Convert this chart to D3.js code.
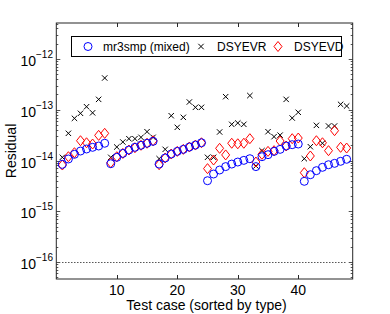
<!DOCTYPE html>
<html><head><meta charset="utf-8">
<script src="https://cdn.jsdelivr.net/npm/d3@7"></script>
<style>body{margin:0;background:#fff}svg{display:block}text{font-family:"Liberation Sans",Arial,sans-serif}</style>
</head><body>
<svg id="c" width="390" height="314"></svg>
<script>
const seriesNames = ["mr3smp (mixed)", "DSYEVR", "DSYEVD"];
// log10 of residuals, test cases 1..48
const mr3smp = [-14.075,-13.97,-13.878,-13.813,-13.773,-13.74,-13.714,-13.66,
  -14.063,-13.937,-13.86,-13.793,-13.74,-13.7,-13.66,-13.622,
  -14.07,-13.95,-13.872,-13.82,-13.78,-13.734,-13.695,-13.65,
  -14.398,-14.266,-14.187,-14.12,-14.07,-14.03,-13.997,-13.964,
  -14.12,-13.925,-13.885,-13.82,-13.78,-13.714,-13.688,-13.675,
  -14.41,-14.28,-14.2,-14.134,-14.083,-14.056,-14.016,-13.976];
const dsyevr = [-13.937,-13.464,-13.169,-13.07,-12.94,-13.06,-12.795,-12.374,
  -13.937,-13.734,-13.635,-13.57,-13.57,-13.543,-13.432,-13.543,
  -13.964,-13.78,-13.117,-13.346,-13.149,-12.847,-12.952,-12.952,
  -13.937,-13.937,-13.438,-12.742,-13.287,-13.261,-13.287,-12.72,
  -14.108,-13.806,-13.432,-13.53,-13.5,-12.795,-13.163,-13.05,
  -13.964,-13.728,-13.307,-13.66,-13.32,-13.32,-12.893,-12.926];
const dsyevd = [-14.089,-13.925,-13.846,-13.61,-13.65,-13.675,-13.504,-13.464,
  -14.043,-13.925,-13.86,-13.793,-13.748,-13.7,-13.66,-13.61,
  -14.083,-13.95,-13.872,-13.82,-13.78,-13.734,-13.695,-13.65,
  -14.16,-13.99,-13.76,-13.89,-13.66,-13.67,-13.66,-13.57,
  -14.03,-13.878,-13.82,-13.806,-13.616,-13.714,-13.57,-13.557,
  -14.24,-13.911,-13.61,-13.65,-13.806,-13.412,-13.74,-13.754];
const xTicks = [10, 20, 30, 40];
const yTickExps = [-16, -15, -14, -13, -12];
const refLevel = 1e-16;
const xLabel = "Test case (sorted by type)";
const yLabel = "Residual";

const L = 56.3, R = 352.7, T = 23, B = 279;
const svg = d3.select("#c");
const x = d3.scaleLinear().domain([0, 49]).range([L, R]);
const y = d3.scaleLog().domain([Math.pow(10, -16.335), Math.pow(10, -11.29)]).range([B, T]);
const axCol = "#262626";

svg.append("rect").attr("x", L).attr("y", T).attr("width", R - L).attr("height", B - T)
  .attr("fill", "none").attr("stroke", axCol).attr("stroke-width", 1);

xTicks.forEach(t => {
  const px = Math.round(x(t)) + 0.5;
  svg.append("line").attr("x1", px).attr("x2", px).attr("y1", B).attr("y2", B - 4).attr("stroke", axCol);
  svg.append("line").attr("x1", px).attr("x2", px).attr("y1", T).attr("y2", T + 4).attr("stroke", axCol);
  svg.append("text").attr("x", x(t)).attr("y", 294.5).attr("text-anchor", "middle")
    .attr("font-size", 14).text(t);
});
const [d0, d1] = y.domain();
for (let e = -17; e <= -11; e++) {
  for (let m = 1; m <= 9; m++) {
    const v = m * Math.pow(10, e);
    if (v < d0 || v > d1) continue;
    const py = Math.round(y(v)) + 0.5;
    const len = m === 1 ? 4 : 2;
    svg.append("line").attr("x1", L).attr("x2", L + len).attr("y1", py).attr("y2", py).attr("stroke", axCol).attr("stroke-width", 0.8);
    svg.append("line").attr("x1", R).attr("x2", R - len).attr("y1", py).attr("y2", py).attr("stroke", axCol).attr("stroke-width", 0.8);
  }
}
yTickExps.forEach(e => {
  const py = y(Math.pow(10, e));
  const t = svg.append("text").attr("x", 53).attr("y", py + 7).attr("text-anchor", "end").attr("font-size", 14);
  t.append("tspan").text("10");
  t.append("tspan").attr("dy", -8).attr("font-size", 10).text("\u2212" + Math.abs(e));
});

svg.append("line").attr("x1", x(1)).attr("x2", x(48)).attr("y1", Math.round(y(refLevel)) + 0.5).attr("y2", Math.round(y(refLevel)) + 0.5)
  .attr("stroke", "#000").attr("stroke-width", 1).attr("stroke-dasharray", "1,2");

svg.append("text").attr("x", (L + R) / 2 + 2).attr("y", 309.5).attr("text-anchor", "middle").attr("font-size", 14).text(xLabel);
svg.append("text").attr("transform", `translate(16,${(T + B) / 2}) rotate(-90)`).attr("text-anchor", "middle").attr("font-size", 14).text(yLabel);

const idx = d3.range(1, 49);
const g = svg.append("g");
g.selectAll(".xr").data(dsyevr).join("path")
  .attr("d", (d, i) => { const cx = x(idx[i]), cy = y(Math.pow(10, d)), s = 2.7; return `M${cx - s},${cy - s}L${cx + s},${cy + s}M${cx - s},${cy + s}L${cx + s},${cy - s}`; })
  .attr("stroke", "#000").attr("stroke-width", 1).attr("fill", "none");
g.selectAll(".dd").data(dsyevd).join("path")
  .attr("d", (d, i) => { const cx = x(idx[i]), cy = y(Math.pow(10, d)), w = 4, h = 5; return `M${cx},${cy - h}L${cx + w},${cy}L${cx},${cy + h}L${cx - w},${cy}Z`; })
  .attr("stroke", "#ff0000").attr("stroke-width", 1).attr("fill", "none");
g.selectAll(".cc").data(mr3smp).join("circle")
  .attr("cx", (d, i) => x(idx[i])).attr("cy", d => y(Math.pow(10, d))).attr("r", 4)
  .attr("stroke", "#0000ff").attr("stroke-width", 1).attr("fill", "none");

const lg = svg.append("g");
lg.append("rect").attr("x", 71.5).attr("y", 36.5).attr("width", 270).attr("height", 20)
  .attr("fill", "#fff").attr("stroke", "#000").attr("stroke-width", 1);
const ly = 46.5;
lg.append("circle").attr("cx", 88).attr("cy", ly).attr("r", 4).attr("fill", "none").attr("stroke", "#0000ff");
lg.append("text").attr("x", 103).attr("y", ly + 4.5).attr("font-size", 12).text(seriesNames[0]);
lg.append("path").attr("d", `M${201 - 2.7},${ly - 2.7}L${201 + 2.7},${ly + 2.7}M${201 - 2.7},${ly + 2.7}L${201 + 2.7},${ly - 2.7}`).attr("stroke", "#000").attr("fill", "none");
lg.append("text").attr("x", 217).attr("y", ly + 4.5).attr("font-size", 12).text(seriesNames[1]);
lg.append("path").attr("d", `M278,${ly - 5}L282,${ly}L278,${ly + 5}L274,${ly}Z`).attr("stroke", "#ff0000").attr("fill", "none");
lg.append("text").attr("x", 294).attr("y", ly + 4.5).attr("font-size", 12).text(seriesNames[2]);
</script>
</body></html>
